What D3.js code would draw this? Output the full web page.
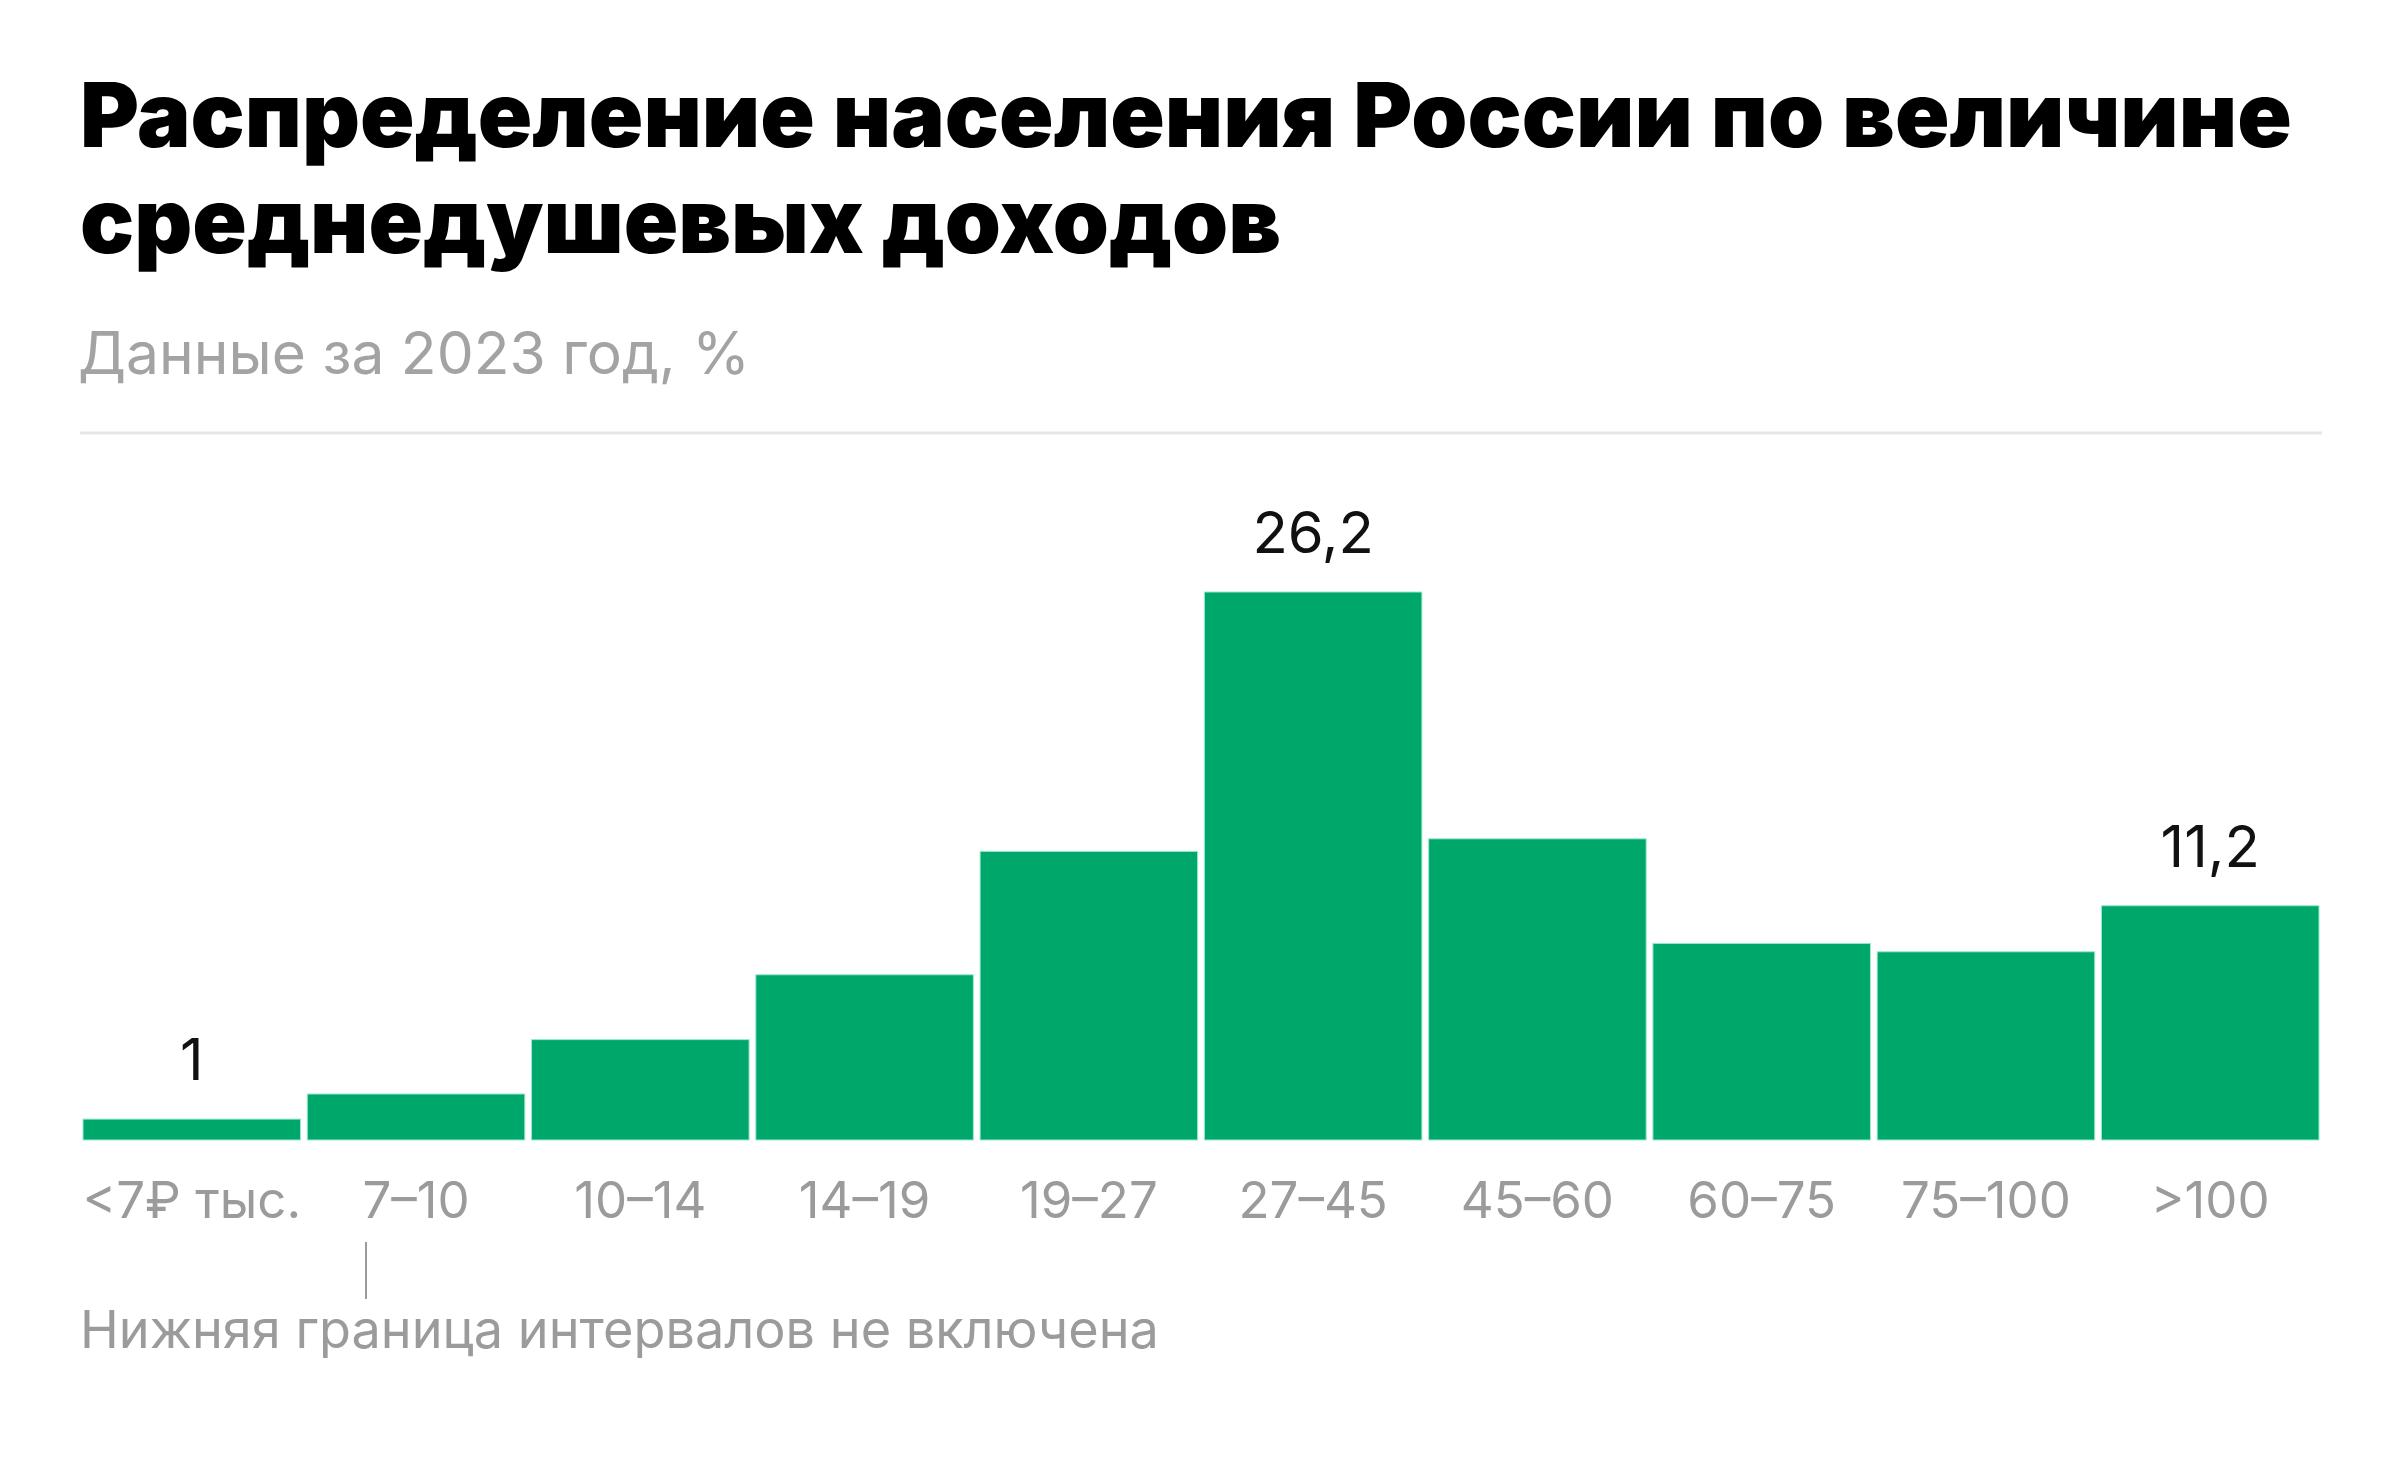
<!DOCTYPE html>
<html lang="ru">
<head>
<meta charset="UTF-8">
<title>Распределение населения России по величине среднедушевых доходов</title>
<script src="https://cdn.jsdelivr.net/npm/d3@7"></script>
<style>
    body { margin: 0; background: #fff; }
    svg { display: block; background: #fff; }
    text { font-family: Inter, Roboto, "Noto Sans", sans-serif; }
</style>
</head>
<body>
<div id="chart"></div>
<script>
    // data, % of population
    var categories = ["<7₽ тыс.", "7–10", "10–14", "14–19", "19–27", "27–45", "45–60", "60–75", "75–100", ">100"]
    var values = [1, 2.2, 4.8, 7.9, 13.8, 26.2, 14.4, 9.4, 9.0, 11.2]
    var labelled = ["<7₽ тыс.", "27–45", ">100"]   // bars that carry a value label

    var titleLines = ["Распределение населения России по величине", "среднедушевых доходов"]
    var subtitle = "Данные за 2023 год, %"
    var note = "Нижняя граница интервалов не включена"

    var width = 2400
    var height = 1460
    var baseY = 1140

    var svg = d3.select('#chart').append('svg')
        .attr('width', width)
        .attr('height', height)

    // shrink / grow a text so it spans the given width
    function fitWidth(sel, target) {
        var fs = parseFloat(sel.attr('font-size'))
        var w = sel.node().getComputedTextLength()
        sel.attr('font-size', fs * target / w)
        return fs * target / w
    }

    // title
    var t1 = svg.append('text')
        .attr('x', 80).attr('y', 147)
        .attr('font-size', 90).attr('font-weight', 900)
        .attr('fill', '#000')
        .text(titleLines[0])
    var titleSize = fitWidth(t1, 2212)
    svg.append('text')
        .attr('x', 80).attr('y', 253)
        .attr('font-size', titleSize).attr('font-weight', 900)
        .attr('fill', '#000')
        .text(titleLines[1])

    var sub = svg.append('text')
        .attr('x', 78).attr('y', 374)
        .attr('font-size', 58)
        .attr('fill', '#a3a3a3')
        .text(subtitle)
    fitWidth(sub, 672)

    svg.append('line')
        .attr('x1', 80).attr('x2', 2322)
        .attr('y1', 433).attr('y2', 433)
        .attr('stroke', '#e6e6e6')
        .attr('stroke-width', 3)

    // scales
    var x = d3.scaleBand()
        .domain(categories)
        .range([83, 2319])
        .paddingInner(0.03)
        .paddingOuter(0)

    var y = d3.scaleLinear()
        .domain([0, 26.2])
        .range([baseY, 592])

    var data = categories.map((c, i) => ({ cat: c, value: values[i] }))

    svg.append('g').selectAll('rect')
        .data(data)
        .enter()
        .append('rect')
        .attr('x', d => x(d.cat))
        .attr('y', d => y(d.value))
        .attr('width', x.bandwidth())
        .attr('height', d => y(0) - y(d.value))
        .attr('fill', '#00a76b')
        .attr('stroke', '#9be9cd')
        .attr('stroke-width', 1)

    // value labels
    svg.append('g').selectAll('text')
        .data(data.filter(d => labelled.includes(d.cat)))
        .enter()
        .append('text')
        .attr('x', d => x(d.cat) + x.bandwidth() / 2)
        .attr('y', d => y(d.value) - 39)
        .attr('text-anchor', 'middle')
        .attr('font-size', 58)
        .attr('fill', '#111')
        .text(d => d3.format('.1~f')(d.value).replace('.', ','))

    // x axis
    var axis = svg.append('g')
        .attr('transform', `translate(0,${baseY})`)
        .call(d3.axisBottom(x).tickSize(0))
    axis.select('.domain').remove()
    axis.selectAll('text')
        .attr('y', 78)
        .attr('dy', 0)
        .attr('font-size', 51)
        .attr('font-family', 'Inter, Roboto, sans-serif')
        .attr('fill', '#9b9b9b')

    // note about interval bounds
    svg.append('line')
        .attr('x1', 366).attr('x2', 366)
        .attr('y1', 1242).attr('y2', 1299)
        .attr('stroke', '#9b9b9b')
        .attr('stroke-width', 2)

    var nt = svg.append('text')
        .attr('x', 80).attr('y', 1348)
        .attr('font-size', 50)
        .attr('fill', '#9b9b9b')
        .text(note)
    fitWidth(nt, 1079)
</script>
</body>
</html>
